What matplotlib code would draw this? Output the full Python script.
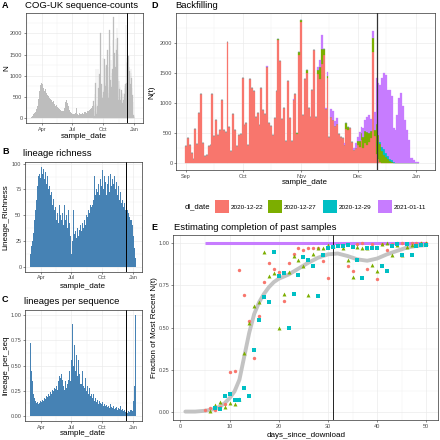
import numpy as np
import pandas as pd
import matplotlib
matplotlib.use("Agg")
import matplotlib.pyplot as plt
from matplotlib.patches import Rectangle

plt.rcParams['font.family'] = ['Liberation Sans', 'DejaVu Sans']

# -------------------------------
# Data
# -------------------------------
# A: sequence counts, 3-day bins from 2020-03-01 to 2020-08-31 (Sep onwards = final download in D)
counts_early = [40, 60, 90, 120, 150, 220, 300, 450, 650, 780, 820,
                800, 720, 650, 700, 600, 550, 520, 480, 450, 420,
                380, 400, 330, 300, 320, 270, 250, 220, 200, 180,
                160, 170, 250, 380, 420, 350, 280, 200, 150, 130,
                100, 90, 110, 120, 230, 100, 80, 120, 90, 110,
                130, 100, 140, 150, 130, 170, 160, 200, 220, 240, 280]

# B: lineage richness, 3-day bins from 2020-03-01
richness = [12, 20, 25, 33, 45, 55, 65, 78, 88, 90, 86,
            97, 90, 95, 85, 92, 80, 88, 75, 78, 70,
            72, 60, 66, 55, 58, 45, 52, 42, 60, 50,
            45, 52, 40, 60, 45, 50, 38, 55, 42, 30,
            12, 25, 55, 32, 35, 28, 38, 30, 36, 40,
            35, 42, 38, 45, 40, 50, 48, 55, 52, 60, 58,
            60, 65, 88, 70, 75, 72, 80, 70, 85, 78,
            94, 75, 88, 82, 70, 80, 88, 72, 90, 78,
            85, 80, 88, 75, 82, 70, 78, 65, 72, 62,
            65, 58, 62, 55, 50, 55, 52, 48, 45, 40,
            30, 18, 8]

# C: lineages per sequence, 3-day bins from 2020-03-01
per_seq = [0.72, 0.45, 0.35, 0.22, 0.18, 0.15, 0.13, 0.14, 0.12, 0.13, 0.15,
           0.14, 0.16, 0.15, 0.18, 0.17, 0.20, 0.19, 0.22, 0.20, 0.24,
           0.22, 0.26, 0.25, 0.28, 0.27, 0.30, 0.26, 0.35, 0.40, 0.38,
           0.42, 0.36, 0.30, 0.26, 0.35, 0.28, 0.32, 0.36, 0.45, 0.35,
           0.55, 0.91, 0.50, 0.70, 0.45, 0.60, 0.40, 0.55, 0.42, 0.32,
           0.32, 0.45, 0.30, 0.28, 0.38, 0.25, 0.30, 0.22, 0.28, 0.20, 0.22,
           0.18, 0.22, 0.15, 0.18, 0.14, 0.16, 0.12, 0.15, 0.13, 0.12,
           0.14, 0.10, 0.12, 0.10, 0.11, 0.09, 0.10, 0.08, 0.12, 0.09,
           0.08, 0.10, 0.07, 0.08, 0.09, 0.06, 0.08, 0.07, 0.10, 0.06,
           0.07, 0.05, 0.06, 0.04, 0.05, 0.03, 0.05, 0.04, 0.06, 0.05,
           0.15, 0.30, 1.00]

# D: daily counts from 2020-09-01, by download date
dl_dates = ["2020-12-22", "2020-12-27", "2020-12-29", "2021-01-11"]
dl_colors = ["#F8766D", "#7CAE00", "#00BFC4", "#C77CFF"]

n_1222 = [272, 405, 300, 160, 60, 560, 305, 830, 1150, 330,
          105, 135, 272, 300, 1150, 440, 720, 470, 550, 1050,
          550, 520, 2020, 590, 200, 810, 550, 272, 470, 480,
          1410, 630, 655, 300, 1390, 1240, 1190, 770, 830, 630,
          1245, 880, 810, 1600, 660, 605, 470, 745, 1200, 2040,
          1700, 730, 910, 355, 1370, 745, 355, 1050, 1150, 480,
          1800, 2350, 800, 1400, 1500, 910, 770, 1215, 1880, 770,
          1480, 1400, 1650, 1800, 900, 1420, 430, 760, 720, 620,
          640, 480, 430, 420, 300, 560, 540, 580, 350, 210,
          250, 300, 260, 380, 250, 330, 300, 350, 410, 1850,
          440, 150, 60, 20]
# extra sequences added by later downloads (day index since 2020-09-01 -> count)
add_1227 = {49: 30, 59: 20, 60: 40, 61: 30, 64: 40, 70: 60, 71: 200, 72: 250,
            73: 100, 75: 20, 85: 100, 86: 60, 91: 60, 92: 100, 93: 120, 94: 180,
            95: 200, 96: 220, 97: 150, 98: 120, 99: 230, 100: 100, 101: 500,
            102: 400, 103: 300, 104: 200, 105: 130, 106: 90, 107: 60, 108: 30,
            109: 15}
add_1229 = {103: 30, 104: 60, 105: 100, 106: 80, 107: 60, 108: 40, 109: 25, 110: 15}
add_0111 = {43: 20, 57: 20, 70: 60, 71: 120, 72: 230, 74: 20, 75: 80, 77: 130,
            78: 150, 79: 80, 80: 100, 84: 30, 89: 40, 90: 80, 91: 70, 92: 150,
            93: 100, 94: 150, 95: 180, 96: 250, 97: 300, 98: 200, 99: 120,
            100: 300, 101: 760, 102: 870, 103: 950, 104: 1150, 105: 1265,
            106: 1295, 107: 1095, 108: 1145, 109: 1065, 110: 563, 111: 550,
            112: 800, 113: 1078, 114: 1160, 115: 940, 116: 715, 117: 550,
            118: 383, 119: 78, 120: 78, 121: 50, 122: 20, 123: 10}

# E: fraction of most recent N(t) vs days since download
e_days_1222 = list(range(5, 51))
e_frac_1222 = [0.012, 0.02, 0.008, 0.03, 0.045, 0.233, 0.242, 0.843, 0.695, 0.536,
               0.32, 0.57, 0.768, 0.883, 0.847, 0.83, 0.657, 0.885, 0.94, 0.972,
               0.962, 0.974, 0.97, 0.97, 0.895, 0.794, 0.98, 0.99, 0.99, 0.867,
               0.835, 0.996, 1.0, 0.847, 0.996, 0.788, 0.996, 0.962, 0.996, 1.0,
               1.0, 0.996, 1.0, 1.0, 1.0, 1.0]
e_days_1227 = list(range(6, 51))
e_frac_1227 = [0.004, 0.038, 0.058, 0.028, 0.054, 0.048, 0.077, 0.351, 0.524, 0.625,
               0.649, 0.948, 0.808, 0.827, 0.498, 0.698, 0.83, 0.923, 0.903, 0.865,
               0.694, 0.937, 0.972, 0.974, 0.988, 0.986, 0.99, 0.975, 0.903, 0.798,
               0.98, 0.974, 0.97, 0.871, 0.837, 0.996, 1.0, 0.93, 0.99, 0.93,
               0.98, 0.99, 0.99, 1.0, 1.0]
e_days_1229 = list(range(7, 51))
e_frac_1229 = [0.02, 0.014, 0.093, 0.107, 0.067, 0.067, 0.143, 0.093, 0.365, 0.546,
               0.679, 0.653, 0.946, 0.804, 0.823, 0.496, 0.698, 0.815, 0.921, 0.899,
               0.865, 0.69, 0.933, 0.97, 0.978, 0.985, 0.985, 0.99, 0.976, 0.903,
               0.796, 0.972, 0.972, 0.972, 0.867, 0.833, 0.984, 0.998, 0.929, 0.996,
               0.929, 0.985, 0.99, 0.99]
smooth_x = [1, 3, 5, 7, 8, 9, 10, 11, 12, 13, 14, 15, 16, 17, 18, 19, 20, 22, 24,
            26, 28, 30, 32, 34, 36, 38, 40, 42, 44, 46, 48, 50]
smooth_y = [0.0, 0.0, 0.005, 0.015, 0.03, 0.05, 0.08, 0.12, 0.19, 0.33, 0.47, 0.58,
            0.65, 0.70, 0.74, 0.77, 0.79, 0.815, 0.85, 0.885, 0.915, 0.935, 0.94,
            0.925, 0.905, 0.897, 0.91, 0.935, 0.955, 0.975, 0.985, 0.99]

cutoff = pd.Timestamp("2020-12-11")

# -------------------------------
# Build series
# -------------------------------
n_days = 124
d_dates = pd.date_range("2020-09-01", periods=n_days)
red = np.zeros(n_days)
red[:len(n_1222)] = n_1222
green = np.zeros(n_days)
for k, v in add_1227.items():
    green[k] = v
cyan = np.zeros(n_days)
for k, v in add_1229.items():
    cyan[k] = v
purple = np.zeros(n_days)
for k, v in add_0111.items():
    purple[k] = v
total = red + green + cyan + purple

bins = pd.date_range("2020-03-01", periods=len(richness), freq="3D")
early_bins = pd.date_range("2020-03-01", periods=len(counts_early), freq="3D")

# -------------------------------
# Figure helpers
# -------------------------------
W = H = 440
fig = plt.figure(figsize=(4.4, 4.4), dpi=100)


def px_axes(x0, y0, x1, y1):
    return fig.add_axes([x0 / W, 1 - y1 / H, (x1 - x0) / W, (y1 - y0) / H])


def ftext(x, y, s, **kw):
    fig.text(x / W, 1 - y / H, s, **kw)


def style(ax):
    for s in ax.spines.values():
        s.set_color("#333333")
        s.set_linewidth(0.5)
    ax.tick_params(which="major", labelsize=4, labelcolor="#4D4D4D", color="#333333",
                   length=1.6, width=0.4, pad=1)
    ax.tick_params(which="minor", length=0)
    ax.grid(which="major", color="#EBEBEB", lw=0.5)
    ax.grid(which="minor", color="#EBEBEB", lw=0.25)
    ax.set_axisbelow(True)


ts = pd.Timestamp
month_ticks = [ts("2020-04-01"), ts("2020-07-01"), ts("2020-10-01"), ts("2021-01-01")]
month_minor = [ts("2020-02-15"), ts("2020-05-16"), ts("2020-08-16"), ts("2020-11-16")]
abc_xlim = (ts("2020-02-13"), ts("2021-01-27"))


def date_axis(ax):
    ax.set_xlim(*abc_xlim)
    ax.set_xticks(month_ticks)
    ax.set_xticklabels(["Apr", "Jul", "Oct", "Jan"])
    ax.set_xticks(month_minor, minor=True)


title_kw = dict(fontsize=6.8, va="center", ha="left")
tag_kw = dict(fontsize=6.5, fontweight="bold", va="center", ha="left")
lab_kw = dict(fontsize=5.8, va="center", ha="center")

# -------------------------------
# A: COG-UK sequence counts
# -------------------------------
axA = px_axes(26, 12.7, 142.7, 123.3)
style(axA)
axA.bar(early_bins, counts_early, width=3, color="#BDBDBD", linewidth=0)
axA.bar(d_dates, total, width=1, color="#BDBDBD", edgecolor="#BDBDBD", linewidth=0.2)
axA.axvline(cutoff, color="black", lw=0.7)
date_axis(axA)
axA.set_ylim(-120, 2490)
axA.set_yticks([0, 500, 1000, 1500, 2000])
axA.set_yticks([250, 750, 1250, 1750, 2250], minor=True)
ftext(2, 6, "A", **tag_kw)
ftext(25, 6, "COG-UK sequence-counts", **title_kw)
ftext(84, 137, "sample_date", **lab_kw)
ftext(7, 68, "N", rotation=90, **lab_kw)

# -------------------------------
# B: lineage richness
# -------------------------------
axB = px_axes(25, 161.7, 141.7, 271.7)
style(axB)
axB.bar(bins, richness, width=3, color="steelblue", linewidth=0)
axB.axvline(cutoff, color="black", lw=0.7)
date_axis(axB)
axB.set_ylim(-4.9, 101.9)
axB.set_yticks([0, 25, 50, 75, 100])
axB.set_yticks([12.5, 37.5, 62.5, 87.5], minor=True)
ftext(2, 152, "B", **tag_kw)
ftext(23, 153, "lineage richness", **title_kw)
ftext(83, 286, "sample_date", **lab_kw)
ftext(6, 217, "Lineage_Richness", rotation=90, **lab_kw)

# -------------------------------
# C: lineages per sequence
# -------------------------------
axC = px_axes(25, 310, 141.7, 421)
style(axC)
axC.bar(bins, per_seq, width=3, color="steelblue", linewidth=0)
axC.axvline(cutoff, color="black", lw=0.7)
date_axis(axC)
axC.set_ylim(-0.05, 1.05)
axC.set_yticks([0, 0.25, 0.5, 0.75, 1.0])
axC.set_yticklabels(["0.00", "0.25", "0.50", "0.75", "1.00"])
axC.set_yticks([0.125, 0.375, 0.625, 0.875], minor=True)
ftext(2, 300, "C", **tag_kw)
ftext(24, 301, "lineages per sequence", **title_kw)
ftext(83, 433, "sample_date", **lab_kw)
ftext(6, 365, "lineage_per_seq", rotation=90, **lab_kw)

# -------------------------------
# D: Backfilling
# -------------------------------
axD = px_axes(176, 13.3, 435, 170)
style(axD)
bottom = np.zeros(n_days)
for layer, col in zip([red, green, cyan, purple], dl_colors):
    axD.bar(d_dates, layer, width=1, bottom=bottom, color=col,
            edgecolor=col, linewidth=0.2)
    bottom = bottom + layer
axD.axvline(cutoff, color="#333333", lw=0.9)
axD.set_xlim(ts("2020-08-26 18:00"), ts("2021-01-10 22:00"))
axD.set_xticks([ts("2020-09-01"), ts("2020-10-01"), ts("2020-11-01"),
                ts("2020-12-01"), ts("2021-01-01")])
axD.set_xticklabels(["Sep", "Oct", "Nov", "Dec", "Jan"])
axD.set_xticks([ts("2020-09-16"), ts("2020-10-16"), ts("2020-11-16"),
                ts("2020-12-16")], minor=True)
axD.set_ylim(-120, 2490)
axD.set_yticks([0, 500, 1000, 1500, 2000])
axD.set_yticks([250, 750, 1250, 1750, 2250], minor=True)
ftext(151, 6, "D", **tag_kw)
ftext(175, 6, "Backfilling", **title_kw)
ftext(305, 183, "sample_date", **lab_kw)
ftext(152, 92, "N(t)", rotation=90, **lab_kw)

# legend
ftext(185, 207, "dl_date", fontsize=5.5, va="center", ha="left")
key_x = [215, 268, 323, 378]
for kx, col, lab in zip(key_x, dl_colors, dl_dates):
    fig.patches.append(Rectangle((kx / W, 1 - 213.5 / H), 13.5 / W, 13 / H,
                                 transform=fig.transFigure, color=col, lw=0))
    ftext(kx + 16, 207, lab, fontsize=4.6, va="center", ha="left")

# -------------------------------
# E: Estimating completion of past samples
# -------------------------------
axE = px_axes(173.3, 235, 438.3, 420)
style(axE)
axE.plot([5, 50], [1, 1], color="#C77CFF", lw=2.2, solid_capstyle="butt", zorder=2)
axE.plot(smooth_x, smooth_y, color="#BDBDBD", lw=2.8, alpha=0.9,
         solid_capstyle="round", zorder=2)
axE.axvline(31, color="black", lw=0.6, zorder=2)
axE.scatter(e_days_1222, e_frac_1222, s=6, marker="o", color=dl_colors[0], lw=0, zorder=3)
axE.scatter(e_days_1227, e_frac_1227, s=8, marker="^", color=dl_colors[1], lw=0, zorder=3)
axE.scatter(e_days_1229, e_frac_1229, s=7, marker="s", color=dl_colors[2], lw=0, zorder=3)
axE.set_xlim(-1.45, 52.45)
axE.set_ylim(-0.05, 1.05)
axE.set_xticks([0, 10, 20, 30, 40, 50])
axE.set_xticks([5, 15, 25, 35, 45], minor=True)
axE.set_yticks([0, 0.25, 0.5, 0.75, 1.0])
axE.set_yticklabels(["0.00", "0.25", "0.50", "0.75", "1.00"])
axE.set_yticks([0.125, 0.375, 0.625, 0.875], minor=True)
ftext(151, 227, "E", **tag_kw)
ftext(174, 227, "Estimating completion of past samples", **title_kw)
ftext(306, 435, "days_since_download", **lab_kw)
ftext(154, 328, "Fraction of Most Recent N(t)", rotation=90, **lab_kw)

fig.savefig("out.png", dpi=100)
